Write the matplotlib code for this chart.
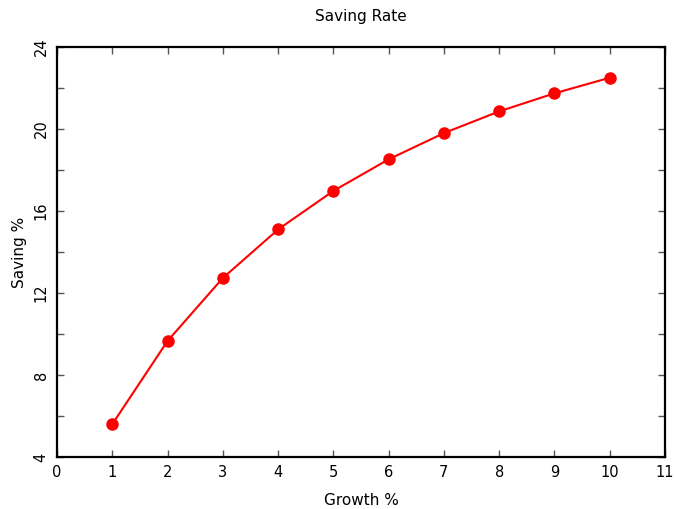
import matplotlib
matplotlib.use('Agg')
import matplotlib.pyplot as plt
from matplotlib.ticker import MultipleLocator

growth = [1, 2, 3, 4, 5, 6, 7, 8, 9, 10]
saving = [5.6, 9.66, 12.73, 15.1, 16.98, 18.52, 19.8, 20.86, 21.74, 22.5]

plt.rcParams['font.family'] = 'DejaVu Sans'

fig = plt.figure(figsize=(6.74, 5.09), dpi=100)
ax = fig.add_axes([57/674, 1 - 457/509, 608/674, 410/509])

ax.plot(growth, saving, color='red', lw=1.5, marker='o', ms=8, mec='red', mfc='red')

ax.set_xlim(0, 11)
ax.set_ylim(4, 24)
ax.xaxis.set_major_locator(MultipleLocator(1))
ax.yaxis.set_major_locator(MultipleLocator(4))
ax.yaxis.set_minor_locator(MultipleLocator(2))
ax.tick_params(which='both', direction='in', top=True, right=True,
               labelsize=10.5, color='#555555')
ax.tick_params(which='major', length=5, width=1, pad=6)
ax.tick_params(which='minor', length=5, width=1)
for lab in ax.get_yticklabels():
    lab.set_rotation(90)
    lab.set_va('center')
for s in ax.spines.values():
    s.set_linewidth(1.6)

ax.set_title('Saving Rate', fontsize=11, pad=18.5)
ax.set_xlabel('Growth %', fontsize=11, labelpad=9)
ax.set_ylabel('Saving %', fontsize=11, labelpad=5)

fig.savefig('out.png', dpi=100)
